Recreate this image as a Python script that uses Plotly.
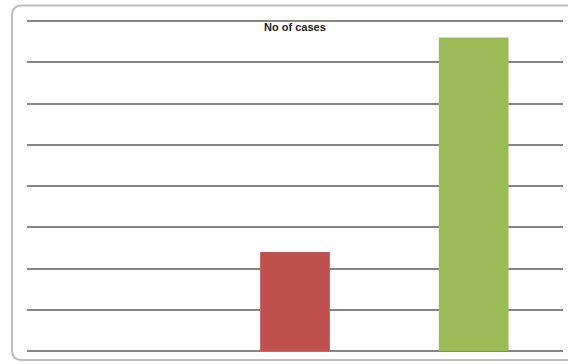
import plotly.graph_objects as go

# Data
categories = ["Group 1", "Group 2", "Group 3"]
cases = [0, 12, 38]
bar_colors = ["#4F81BD", "#C0504D", "#9BBB59"]
y_ticks = [0, 5, 10, 15, 20, 25, 30, 35, 40]
y_max = 40

W, H = 568, 364
ML, MR, MT, MB = 27, 5, 19, 13
PW, PH = W - ML - MR, H - MT - MB
# a little headroom so the top gridline is still drawn
y_top = y_max * (PH / (PH - 2))


def px(x):
    return (x - ML) / PW


def py(y):
    return (H - MB - y) / PH


fig = go.Figure(
    go.Bar(
        x=categories,
        y=cases,
        marker=dict(color=bar_colors, line=dict(width=0)),
        width=0.39,
    )
)

# Rounded chart frame (right side runs off the page)
r = 10
x0, y0, y1 = 12, 5.5, 360
path = (
    f"M {px(620)},{py(y0)} L {px(x0 + r)},{py(y0)} "
    f"Q {px(x0)},{py(y0)} {px(x0)},{py(y0 + r)} "
    f"L {px(x0)},{py(y1 - r)} "
    f"Q {px(x0)},{py(y1)} {px(x0 + r)},{py(y1)} "
    f"L {px(620)},{py(y1)}"
)
fig.add_shape(type="path", path=path, xref="paper", yref="paper",
              line=dict(color="#BDBDBD", width=2), layer="below")

fig.add_annotation(text="<b>No of cases</b>", x=0.5, y=py(27), xref="paper", yref="paper",
                   showarrow=False, font=dict(family="Liberation Sans", size=11, color="#222"),
                   xanchor="center", yanchor="middle")

fig.update_layout(
    width=W, height=H,
    margin=dict(l=ML, r=MR, t=MT, b=MB),
    paper_bgcolor="white", plot_bgcolor="white",
    showlegend=False,
    xaxis=dict(showticklabels=False, showgrid=False, zeroline=False, showline=False, ticks=""),
    yaxis=dict(range=[0, y_top], tickvals=y_ticks, showticklabels=False, ticks="",
               showgrid=True, gridcolor="#858585", gridwidth=1.6,
               zeroline=True, zerolinecolor="#858585", zerolinewidth=1.6, showline=False),
)

fig.write_html("out.html")
